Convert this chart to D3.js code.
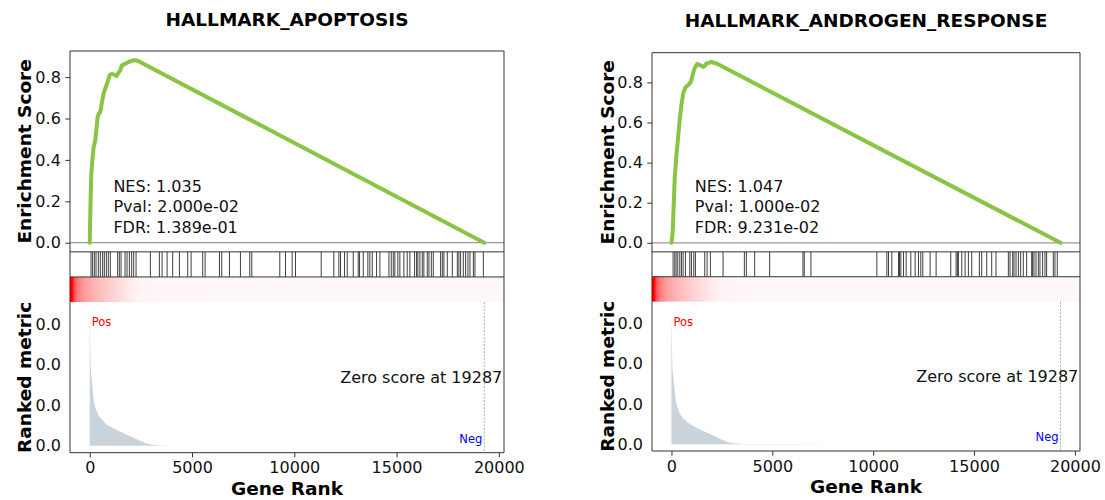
<!DOCTYPE html>
<html>
<head>
<meta charset="utf-8">
<script src="https://cdn.jsdelivr.net/npm/d3@7"></script>
<style>
  body { margin: 0; background: #fff; }
  svg { display: block; font-family: "DejaVu Sans", sans-serif; }
</style>
</head>
<body>
<svg id="chart" width="1105" height="500"></svg>
<script>
// ---- data -------------------------------------------------------------
const zeroScore = 19287;

// ranked gene-level metric (shared ranking for both gene sets)
const metricRank  = [0, 15, 40, 75, 111, 192, 356, 682, 1171, 1660, 2149, 2638, 3128, 4000, 8000, 19287];
const metricValue = [0.0338, 0.028, 0.021, 0.0175, 0.0158, 0.0117, 0.0084, 0.0060, 0.0043, 0.0031, 0.0020, 0.00086, 0.0002, 0.00005, 0.00002, 0];

// running enrichment score, HALLMARK_APOPTOSIS
const apoptosisEsRank = [0, 20, 45, 78, 130, 191, 274, 330, 387, 460, 519, 600, 680, 760, 846, 920, 974, 1070, 1171, 1301, 1400, 1497, 1579, 1700, 1825, 1950, 2069, 2200, 2343, 19287];
const apoptosisEs     = [0, 0.10, 0.22, 0.333, 0.40, 0.462, 0.495, 0.55, 0.608, 0.625, 0.632, 0.68, 0.721, 0.745, 0.769, 0.79, 0.81, 0.815, 0.813, 0.805, 0.82, 0.834, 0.858, 0.862, 0.869, 0.875, 0.879, 0.882, 0.879, 0];
const apoptosisHits = [64, 142, 225, 308, 421, 519, 631, 714, 812, 910, 1008, 1365, 1448, 1531, 1727, 1825, 1937, 2050, 2148, 2265,
  2965, 3405, 3537, 3782, 4056, 4384, 4790, 4956, 5523, 5641, 6341, 6453, 6830, 7368, 7824, 7922, 9291, 9570, 9897, 10059,
  11316, 11933, 12178, 12260, 12456, 12588, 12882, 13126, 13190, 13371, 13596, 13694, 13812, 14022, 14185, 14626, 14740,
  14838, 14916, 15063, 15161, 15357, 15521, 15650, 15880, 15978, 16041, 16140, 16256, 16334, 16500, 16581, 16699, 16795,
  17153, 17236, 17314, 17480, 17725, 17970, 18046, 18131, 18263, 18376, 18489, 18587, 18753, 18831, 19242];
const apoptosisStats = ["NES: 1.035", "Pval: 2.000e-02", "FDR: 1.389e-01"];

// running enrichment score, HALLMARK_ANDROGEN_RESPONSE
const androgenEsRank = [0, 60, 114, 163, 248, 332, 396, 480, 579, 693, 856, 950, 1025, 1124, 1188, 1272, 1436, 1560, 1634, 1733, 1850, 1965, 2100, 2262, 19287];
const androgenEs     = [0, 0.05, 0.194, 0.327, 0.44, 0.528, 0.60, 0.678, 0.745, 0.775, 0.79, 0.80, 0.825, 0.865, 0.878, 0.892, 0.885, 0.878, 0.88, 0.895, 0.897, 0.903, 0.898, 0.893, 0];
const androgenHits = [82, 165, 231, 314, 413, 495, 578, 693, 908, 990, 1106, 1188, 1650, 1766, 1931, 2558, 3614, 3713, 4125, 4868,
  6518, 6584, 6914, 10182, 10677, 10759, 10924, 11254, 11304, 11370, 11502, 11634, 11865, 12079, 12244, 12360, 12459, 12822,
  13119, 13845, 14109, 14175, 14224, 14390, 14554, 14719, 14884, 15264, 15380, 15627, 15875, 16089, 16700, 16782, 16914,
  16980, 17079, 17195, 17310, 17442, 17607, 17855, 17904, 17970, 18069, 18185, 18267, 18399, 18515, 18597, 18927, 19010, 19125];
const androgenStats = ["NES: 1.047", "Pval: 1.000e-02", "FDR: 9.231e-02"];

// axis ticks
const esTicks = [0, 0.2, 0.4, 0.6, 0.8];
const metricTicks = [0, 0.01, 0.02, 0.03];
const rankTicks = [0, 5000, 10000, 15000, 20000];

// ---- drawing ------------------------------------------------------------
const svg = d3.select("#chart");
const metric = metricRank.map((r, i) => ({ rank: r, v: metricValue[i] }));

const panels = [
  { title: "HALLMARK_APOPTOSIS", esRank: apoptosisEsRank, es: apoptosisEs, hits: apoptosisHits, stats: apoptosisStats,
    left: 70, right: 504, top: 51, bottom: 452.7, titleY: 25.7, ylabX: 31, xlabY: 495 },
  { title: "HALLMARK_ANDROGEN_RESPONSE", esRank: androgenEsRank, es: androgenEs, hits: androgenHits, stats: androgenStats,
    left: 652, right: 1080, top: 52.7, bottom: 451, titleY: 27.3, ylabX: 614, xlabY: 493.3 }
];

const spine = "#333";
const pad = (lo, hi) => { const r = hi - lo; return [lo - 0.05 * r, hi + 0.05 * r]; };

// colour of the ranking bar: seismic-like upper half, white -> red -> dark red
const barColor = v => {
  const t = Math.max(0, v) / d3.max(metricValue);
  return t <= 0.5 ? d3.interpolateRgb("#fef7f8", "#ff0000")(t / 0.5)
                  : d3.interpolateRgb("#ff0000", "#990000")((t - 0.5) / 0.5);
};

panels.forEach((p, pi) => {
  const g = svg.append("g");
  const u = (p.bottom - p.top) / 16;
  const esTop = p.top, esBot = p.top + 8 * u;
  const hitTop = esBot, hitBot = p.top + 9 * u;
  const cbTop = hitBot, cbBot = p.top + 10 * u;
  const rmTop = cbBot, rmBot = p.bottom;

  const x = d3.scaleLinear().domain(pad(0, zeroScore)).range([p.left, p.right]);
  const esData = p.esRank.map((r, i) => ({ rank: r, es: p.es[i] }));
  const yEs = d3.scaleLinear().domain(pad(d3.min(p.es), d3.max(p.es))).range([esBot, esTop]);
  const yM = d3.scaleLinear().domain(pad(d3.min(metricValue), d3.max(metricValue))).range([rmBot, rmTop]);
  const xBar = d3.scaleLinear().domain([0, zeroScore]).range([p.left, p.right]);
  const midX = (p.left + p.right) / 2;
  const W = p.right - p.left;

  // title
  g.append("text").attr("x", midX).attr("y", p.titleY).attr("text-anchor", "middle")
    .attr("font-size", "18.5px").attr("font-weight", "bold").text(p.title);

  // --- enrichment score panel
  g.append("line").attr("x1", p.left).attr("x2", p.right).attr("y1", yEs(0)).attr("y2", yEs(0))
    .attr("stroke", "#999").attr("stroke-width", 1.2);

  g.append("path").datum(esData)
    .attr("fill", "none").attr("stroke", "#88C544").attr("stroke-width", 4)
    .attr("stroke-linejoin", "round").attr("stroke-linecap", "round")
    .attr("d", d3.line().x(d => x(d.rank)).y(d => yEs(d.es)));

  const esAxis = g.append("g").attr("transform", `translate(${p.left},0)`)
    .call(d3.axisLeft(yEs).tickValues(esTicks).tickFormat(d3.format(".1f")).tickSize(4.7).tickPadding(4.5));
  esAxis.select(".domain").remove();
  esAxis.selectAll("line").attr("stroke", spine);
  esAxis.selectAll("text").attr("font-size", "16px").attr("font-family", "DejaVu Sans").attr("fill", "#111");

  p.stats.forEach((s, i) => {
    g.append("text").attr("x", p.left + 0.1 * W).attr("y", 191.8 + i * 20.5)
      .attr("font-size", "16px").attr("fill", "#111").text(s);
  });

  g.append("text")
    .attr("transform", `translate(${p.ylabX},${(esTop + esBot) / 2}) rotate(-90)`)
    .attr("text-anchor", "middle").attr("font-size", "18.5px").attr("font-weight", "bold")
    .text("Enrichment Score");

  // --- hit markers
  g.append("g").selectAll("line").data(p.hits).join("line")
    .attr("x1", d => x(d)).attr("x2", d => x(d)).attr("y1", hitTop).attr("y2", hitBot)
    .attr("stroke", "#000").attr("stroke-width", 0.75);

  // --- ranking colour bar
  const gid = "rankbar" + pi;
  const grad = svg.append("defs").append("linearGradient").attr("id", gid)
    .attr("gradientUnits", "userSpaceOnUse").attr("x1", xBar(0)).attr("x2", xBar(zeroScore)).attr("y1", 0).attr("y2", 0);
  grad.selectAll("stop").data(metric).join("stop")
    .attr("offset", d => d.rank / zeroScore).attr("stop-color", d => barColor(d.v));
  g.append("rect").attr("x", xBar(0) - 0.5).attr("y", cbTop).attr("width", xBar(zeroScore) - xBar(0) + 0.5)
    .attr("height", cbBot - cbTop).attr("fill", `url(#${gid})`);

  // --- ranked metric panel
  g.append("path").datum(metric)
    .attr("fill", "#C9D3DB")
    .attr("d", d3.area().x(d => x(d.rank)).y0(yM(0)).y1(d => yM(d.v)).curve(d3.curveMonotoneX));

  g.append("line").attr("x1", x(zeroScore)).attr("x2", x(zeroScore)).attr("y1", rmTop).attr("y2", rmBot)
    .attr("stroke", "#999").attr("stroke-width", 0.8).attr("stroke-dasharray", "2,1.5");

  g.append("text").attr("x", p.left + 0.05 * W).attr("y", rmTop + 24)
    .attr("font-size", "11.5px").attr("fill", "red").text("Pos");
  g.append("text").attr("x", p.left + 0.95 * W).attr("y", rmBot - 10).attr("text-anchor", "end")
    .attr("font-size", "11.5px").attr("fill", "blue").text("Neg");
  g.append("text").attr("x", p.left + 0.996 * W).attr("y", (rmTop + rmBot) / 2 + 6).attr("text-anchor", "end")
    .attr("font-size", "16px").attr("fill", "#111").text("Zero score at " + zeroScore);

  const mAxis = g.append("g").attr("transform", `translate(${p.left},0)`)
    .call(d3.axisLeft(yM).tickValues(metricTicks).tickFormat(d3.format(".1f")).tickSize(0).tickPadding(9));
  mAxis.select(".domain").remove();
  mAxis.selectAll("text").attr("font-size", "16px").attr("font-family", "DejaVu Sans").attr("fill", "#111");

  const xAxis = g.append("g").attr("transform", `translate(0,${rmBot})`)
    .call(d3.axisBottom(x).tickValues(rankTicks).tickFormat(d3.format("d")).tickSize(4.7).tickPadding(4.5));
  xAxis.select(".domain").remove();
  xAxis.selectAll("line").attr("stroke", spine);
  xAxis.selectAll("text").attr("font-size", "16px").attr("font-family", "DejaVu Sans").attr("fill", "#111");

  g.append("text")
    .attr("transform", `translate(${p.ylabX},${(rmTop + rmBot) / 2}) rotate(-90)`)
    .attr("text-anchor", "middle").attr("font-size", "18.5px").attr("font-weight", "bold")
    .text("Ranked metric");
  g.append("text").attr("x", midX).attr("y", p.xlabY).attr("text-anchor", "middle")
    .attr("font-size", "18.5px").attr("font-weight", "bold").text("Gene Rank");

  // --- frames
  const seg = (x1, y1, x2, y2) => g.append("line").attr("x1", x1).attr("y1", y1).attr("x2", x2).attr("y2", y2)
    .attr("stroke", spine).attr("stroke-width", 1);
  seg(p.left, esTop, p.right, esTop);
  seg(p.left, hitTop, p.right, hitTop);
  seg(p.left, hitBot, p.right, hitBot);
  seg(p.left, esTop, p.left, cbTop);
  seg(p.left, rmTop, p.left, rmBot);
  seg(p.right, esTop, p.right, rmBot);
  seg(p.left, rmBot, p.right, rmBot);
});
</script>
</body>
</html>
